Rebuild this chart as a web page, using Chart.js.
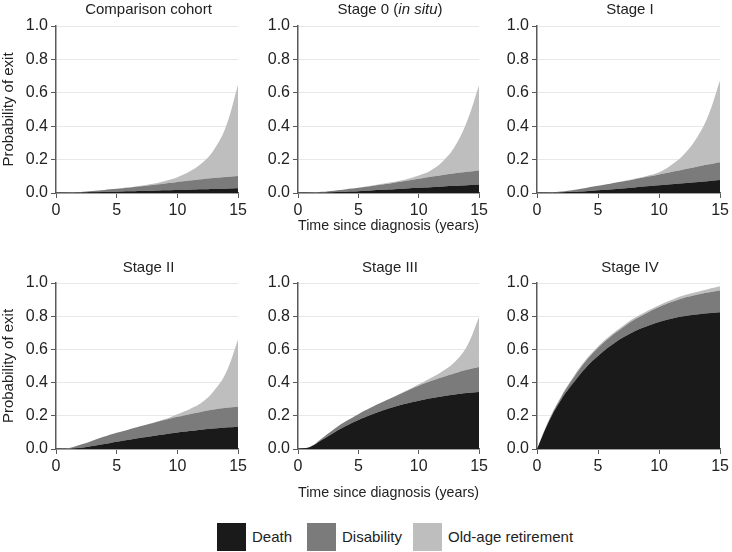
<!DOCTYPE html>
<html>
<head>
<meta charset="utf-8">
<script src="https://cdn.jsdelivr.net/npm/chart.js@4.4.1/dist/chart.umd.min.js"></script>
<style>
body { margin: 0; background: #fff; font-family: "Liberation Sans", Arial, sans-serif; color: #222; }
#wrap { position: relative; width: 732px; height: 552px; overflow: hidden; }
#wrap canvas { position: absolute; }
.ttl { position: absolute; font-size: 15px; line-height: 18px; white-space: nowrap; transform: translateX(-50%); }
.key { position: absolute; top: 523px; height: 28px; font-size: 15px; line-height: 28px; white-space: nowrap; }
.key span { display: inline-block; width: 29px; height: 28px; vertical-align: top; margin-right: 6px; }
</style>
</head>
<body>
<div id="wrap"></div>
<script>
// years since diagnosis
var years = [0, 1, 2, 3, 4, 5, 6, 7, 8, 9, 10, 11, 12, 13, 14, 15];
var causes = ['Death', 'Disability', 'Old-age retirement'];
var causeColors = ['#1a1a1a', '#7b7b7b', '#bebebe'];
var panelTitles = ['Comparison cohort', 'Stage 0 (<i>in situ</i>)', 'Stage I', 'Stage II', 'Stage III', 'Stage IV'];

// cumulative probability of exit (upper edge of each band)
var compDeath = [0, 0, 0.002, 0.004, 0.006, 0.008, 0.010, 0.012, 0.014, 0.016, 0.018, 0.020, 0.022, 0.024, 0.026, 0.028];
var compDisab = [0, 0.002, 0.006, 0.012, 0.018, 0.025, 0.032, 0.040, 0.048, 0.057, 0.066, 0.075, 0.083, 0.090, 0.096, 0.102];
var compTotal = [0, 0.002, 0.006, 0.012, 0.018, 0.026, 0.034, 0.043, 0.055, 0.072, 0.094, 0.128, 0.178, 0.258, 0.398, 0.650];

var st0Death = [0, 0, 0.002, 0.005, 0.008, 0.011, 0.015, 0.019, 0.023, 0.027, 0.031, 0.035, 0.039, 0.043, 0.047, 0.051];
var st0Disab = [0, 0.002, 0.007, 0.014, 0.022, 0.031, 0.041, 0.051, 0.062, 0.073, 0.085, 0.097, 0.108, 0.118, 0.127, 0.135];
var st0Total = [0, 0.002, 0.007, 0.014, 0.022, 0.032, 0.043, 0.055, 0.068, 0.083, 0.105, 0.135, 0.190, 0.280, 0.430, 0.645];

var st1Death = [0, 0, 0.003, 0.007, 0.011, 0.016, 0.021, 0.027, 0.033, 0.040, 0.047, 0.053, 0.059, 0.065, 0.071, 0.078];
var st1Disab = [0, 0.002, 0.009, 0.018, 0.030, 0.043, 0.056, 0.069, 0.083, 0.097, 0.111, 0.126, 0.141, 0.156, 0.170, 0.184];
var st1Total = [0, 0.002, 0.009, 0.018, 0.030, 0.043, 0.056, 0.070, 0.085, 0.102, 0.124, 0.168, 0.228, 0.320, 0.458, 0.675];

var st2Death = [0, 0, 0.007, 0.018, 0.030, 0.044, 0.056, 0.068, 0.079, 0.089, 0.099, 0.108, 0.116, 0.123, 0.129, 0.134];
var st2Disab = [0, 0.005, 0.025, 0.050, 0.075, 0.098, 0.118, 0.138, 0.157, 0.176, 0.194, 0.210, 0.225, 0.238, 0.248, 0.254];
var st2Total = [0, 0.005, 0.025, 0.050, 0.075, 0.098, 0.118, 0.138, 0.158, 0.180, 0.210, 0.240, 0.280, 0.350, 0.460, 0.660];

var st3Death = [0, 0.012, 0.055, 0.100, 0.140, 0.175, 0.205, 0.232, 0.255, 0.274, 0.291, 0.306, 0.318, 0.328, 0.337, 0.344];
var st3Disab = [0, 0.014, 0.065, 0.120, 0.168, 0.210, 0.248, 0.283, 0.317, 0.350, 0.381, 0.409, 0.434, 0.457, 0.477, 0.494];
var st3Total = [0, 0.014, 0.065, 0.120, 0.168, 0.210, 0.248, 0.283, 0.317, 0.352, 0.390, 0.428, 0.470, 0.525, 0.620, 0.795];

var st4Death = [0, 0.170, 0.300, 0.400, 0.490, 0.560, 0.620, 0.670, 0.710, 0.740, 0.765, 0.785, 0.800, 0.810, 0.818, 0.824];
var st4Disab = [0, 0.175, 0.315, 0.430, 0.530, 0.610, 0.675, 0.730, 0.780, 0.820, 0.855, 0.885, 0.910, 0.928, 0.943, 0.955];
var st4Total = [0, 0.180, 0.320, 0.437, 0.537, 0.617, 0.683, 0.740, 0.790, 0.830, 0.866, 0.898, 0.925, 0.945, 0.963, 0.980];

var panels = [
    [compDeath, compDisab, compTotal],
    [st0Death, st0Disab, st0Total],
    [st1Death, st1Disab, st1Total],
    [st2Death, st2Disab, st2Total],
    [st3Death, st3Disab, st3Total],
    [st4Death, st4Disab, st4Total]
];

// layout of the 3x2 grid
var cols = [
    { left: 0, w: 250, yw: 56 },
    { left: 250, w: 241, yw: 48 },
    { left: 490, w: 242, yw: 47 }
];
var rows = [
    { top: 0, h: 235, xh: 42, ttl: 0 },
    { top: 257, h: 245, xh: 53, ttl: 258 }
];

Chart.defaults.font.family = '"Liberation Sans", Arial, sans-serif';
Chart.defaults.font.size = 15;
Chart.defaults.color = '#222';

var wrap = document.getElementById('wrap');
var axisColor = '#5a5a5a';

panels.forEach(function (cum, i) {
    var col = cols[i % 3], row = rows[Math.floor(i / 3)];
    var canvas = document.createElement('canvas');
    canvas.width = col.w;
    canvas.height = row.h;
    canvas.style.left = col.left + 'px';
    canvas.style.top = row.top + 'px';
    wrap.appendChild(canvas);

    var plotW = col.w - col.yw - 9;
    var t = document.createElement('div');
    t.className = 'ttl';
    t.innerHTML = panelTitles[i];
    t.style.left = (col.left + col.yw + plotW / 2) + 'px';
    t.style.top = row.ttl + 'px';
    wrap.appendChild(t);

    new Chart(canvas.getContext('2d'), {
        type: 'line',
        data: {
            datasets: causes.map(function (c, k) {
                return {
                    label: c,
                    data: cum[k].map(function (v, j) { return { x: years[j], y: v }; }),
                    backgroundColor: causeColors[k],
                    borderColor: causeColors[k],
                    borderWidth: 0,
                    pointRadius: 0,
                    fill: k === 0 ? 'origin' : '-1',
                    tension: 0.4
                };
            })
        },
        options: {
            responsive: false,
            animation: false,
            layout: { padding: { top: 26, right: 9, left: 0, bottom: 0 } },
            plugins: { legend: { display: false }, tooltip: { enabled: false } },
            scales: {
                x: {
                    type: 'linear', min: 0, max: 15,
                    ticks: { stepSize: 5, padding: 3, maxRotation: 0, font: { size: 16 } },
                    grid: { drawOnChartArea: false, tickLength: 5, tickColor: axisColor },
                    border: { color: axisColor, width: 1.5 },
                    title: { display: i % 3 === 1, text: 'Time since diagnosis (years)', padding: 0 },
                    afterFit: function (s) { s.height = row.xh; }
                },
                y: {
                    min: 0, max: 1,
                    ticks: { stepSize: 0.2, padding: 3, font: { size: 16 }, callback: function (v) { return v.toFixed(1); } },
                    grid: { color: '#e8e8e8', tickLength: 5, tickColor: axisColor },
                    border: { color: axisColor, width: 1.5 },
                    title: { display: i % 3 === 0, text: 'Probability of exit', padding: 0 },
                    afterFit: function (s) { s.width = col.yw; }
                }
            }
        }
    });
});

// legend
var keyLeft = [217, 307, 413];
causes.forEach(function (c, k) {
    var d = document.createElement('div');
    d.className = 'key';
    d.style.left = keyLeft[k] + 'px';
    d.innerHTML = '<span style="background:' + causeColors[k] + '"></span>' + c;
    wrap.appendChild(d);
});
</script>
</body>
</html>
